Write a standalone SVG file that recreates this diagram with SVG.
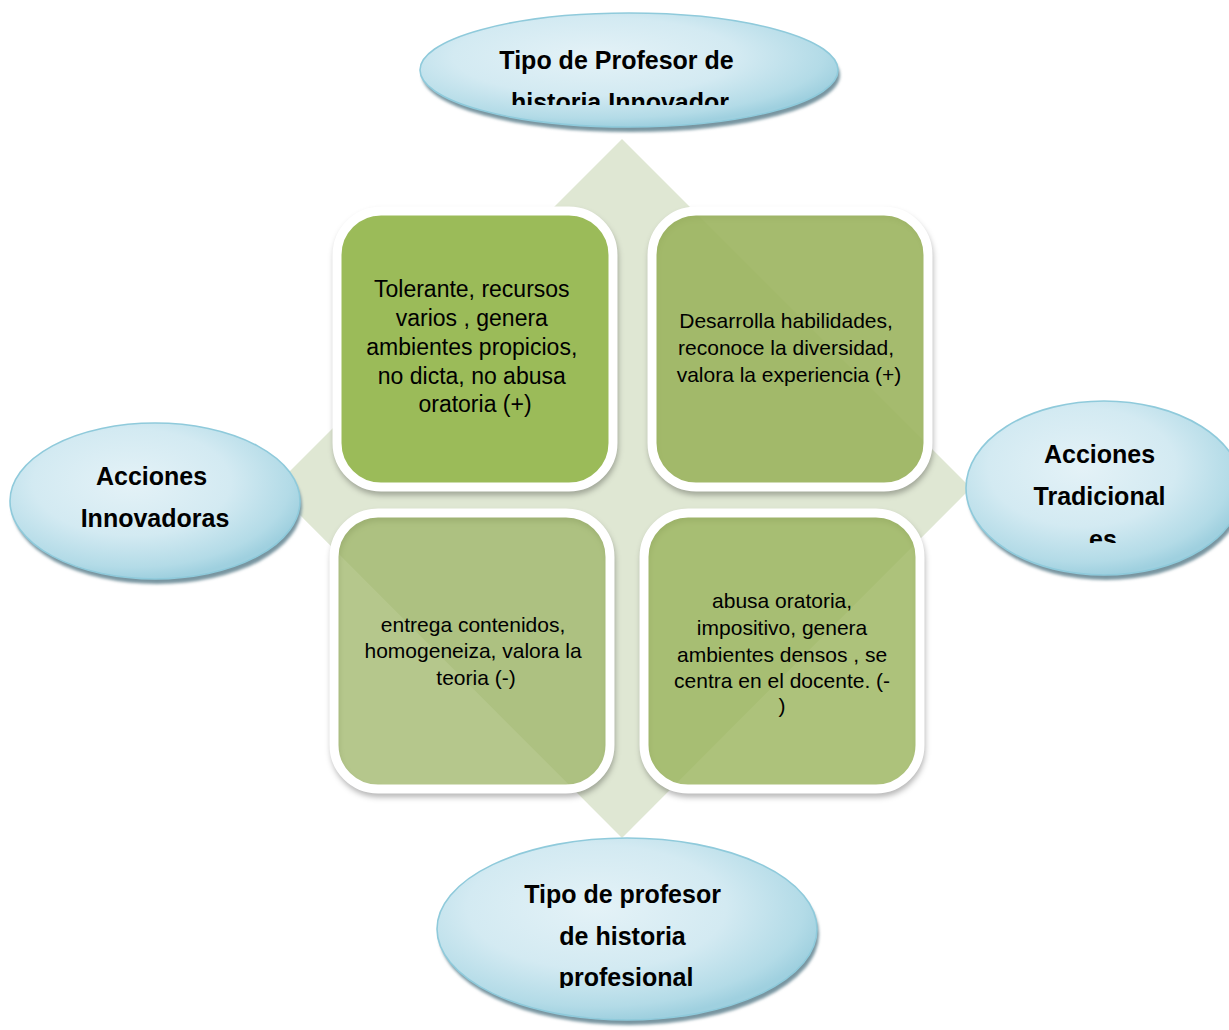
<svg xmlns="http://www.w3.org/2000/svg" width="1229" height="1030" viewBox="0 0 1229 1030">
<defs>
  <radialGradient id="ellFill" cx="42%" cy="38%" r="62%">
    <stop offset="0%" stop-color="#e4f2f7"/>
    <stop offset="55%" stop-color="#d3eaf2"/>
    <stop offset="88%" stop-color="#b3dbe7"/>
    <stop offset="100%" stop-color="#9fd0df"/>
  </radialGradient>
  <filter id="blurS" x="-20%" y="-20%" width="140%" height="140%">
    <feGaussianBlur stdDeviation="1.4"/>
  </filter>
  <filter id="boxShadow" x="-20%" y="-20%" width="140%" height="140%">
    <feGaussianBlur stdDeviation="3"/>
  </filter>
  <clipPath id="clipTop"><rect x="420" y="20" width="420" height="85"/></clipPath>
  <clipPath id="clipRight"><rect x="966" y="410" width="263" height="133"/></clipPath>
  <clipPath id="clipBottom"><rect x="437" y="850" width="380" height="138"/></clipPath>
</defs>
<style>
  .ell { fill: url(#ellFill); stroke: #8fcadb; stroke-width: 1.6; }
  .ellsh { fill: #7895a0; filter: url(#blurS); }
  .etxt { font-family: "Liberation Sans", Arial, sans-serif; font-weight: bold; font-size: 25px; fill: #000; text-anchor: middle; }
  .box { stroke: #ffffff; stroke-width: 9; }
  .boxsh { fill: none; stroke: #000; stroke-opacity: 0.35; stroke-width: 7; filter: url(#boxShadow); }
  .btxt { font-family: "Liberation Sans", Arial, sans-serif; font-size: 21px; fill: #000; text-anchor: middle; }
</style>
<rect x="0" y="0" width="1229" height="1030" fill="#ffffff"/>

<g id="background">
  <polygon points="622,139 971,488 622,838 273,488" fill="#dfe7d3"/>
</g>

<g id="connectors"></g>

<g id="box-tl">
  <rect class="boxsh" x="338" y="215" width="276" height="276" rx="44"/>
  <rect class="box" x="337" y="211" width="276" height="276" rx="44" fill="#9bbb59"/>
  <text class="btxt" style="font-size:23px">
    <tspan x="475" y="297">Tolerante, recursos</tspan>
    <tspan x="475" y="326">varios , genera</tspan>
    <tspan x="475" y="355">ambientes propicios,</tspan>
    <tspan x="475" y="384">no dicta, no abusa</tspan>
    <tspan x="475" y="412">oratoria (+)</tspan>
  </text>
</g>

<g id="box-tr">
  <rect class="boxsh" x="653" y="215" width="276" height="276" rx="44"/>
  <rect class="box" x="652" y="211" width="276" height="276" rx="44" fill="#9bb45e" fill-opacity="0.9"/>
  <text class="btxt">
    <tspan x="789" y="328">Desarrolla habilidades,</tspan>
    <tspan x="789" y="355">reconoce la diversidad,</tspan>
    <tspan x="789" y="382">valora la experiencia (+)</tspan>
  </text>
</g>

<g id="box-bl">
  <rect class="boxsh" x="335" y="517" width="276" height="276" rx="44"/>
  <rect class="box" x="334" y="513" width="276" height="276" rx="44" fill="#9bb464" fill-opacity="0.74"/>
  <text class="btxt">
    <tspan x="476" y="632">entrega contenidos,</tspan>
    <tspan x="476" y="658">homogeneiza, valora la</tspan>
    <tspan x="476" y="685">teoria (-)</tspan>
  </text>
</g>

<g id="box-br">
  <rect class="boxsh" x="645" y="517" width="276" height="276" rx="44"/>
  <rect class="box" x="644" y="513" width="276" height="276" rx="44" fill="#9bb45e" fill-opacity="0.82"/>
  <text class="btxt">
    <tspan x="785" y="608">abusa oratoria,</tspan>
    <tspan x="785" y="635">impositivo, genera</tspan>
    <tspan x="785" y="662">ambientes densos , se</tspan>
    <tspan x="785" y="688">centra en el docente. (-</tspan>
    <tspan x="782" y="713">)</tspan>
  </text>
</g>

<g id="node-top">
  <ellipse class="ellsh" cx="631" cy="75" rx="209" ry="57"/>
  <ellipse class="ell" cx="629" cy="70" rx="209" ry="57"/>
  <text class="etxt" clip-path="url(#clipTop)">
    <tspan x="620" y="69">Tipo de Profesor de</tspan>
    <tspan x="620" y="111">historia Innovador</tspan>
  </text>
</g>

<g id="node-left">
  <ellipse class="ellsh" cx="157" cy="506" rx="145" ry="78"/>
  <ellipse class="ell" cx="155" cy="501" rx="145" ry="78"/>
  <text class="etxt">
    <tspan x="155" y="485">Acciones</tspan>
    <tspan x="155" y="527">Innovadoras</tspan>
  </text>
</g>

<g id="node-right">
  <ellipse class="ellsh" cx="1106" cy="493" rx="138" ry="87"/>
  <ellipse class="ell" cx="1104" cy="488" rx="138" ry="87"/>
  <text class="etxt" clip-path="url(#clipRight)">
    <tspan x="1103" y="463">Acciones</tspan>
    <tspan x="1103" y="505">Tradicional</tspan>
    <tspan x="1103" y="548">es</tspan>
  </text>
</g>

<g id="node-bottom">
  <ellipse class="ellsh" cx="629" cy="934" rx="190" ry="91"/>
  <ellipse class="ell" cx="627" cy="929" rx="190" ry="91"/>
  <text class="etxt" clip-path="url(#clipBottom)">
    <tspan x="626" y="903">Tipo de profesor</tspan>
    <tspan x="626" y="945">de historia</tspan>
    <tspan x="626" y="986">profesional</tspan>
  </text>
</g>
</svg>
